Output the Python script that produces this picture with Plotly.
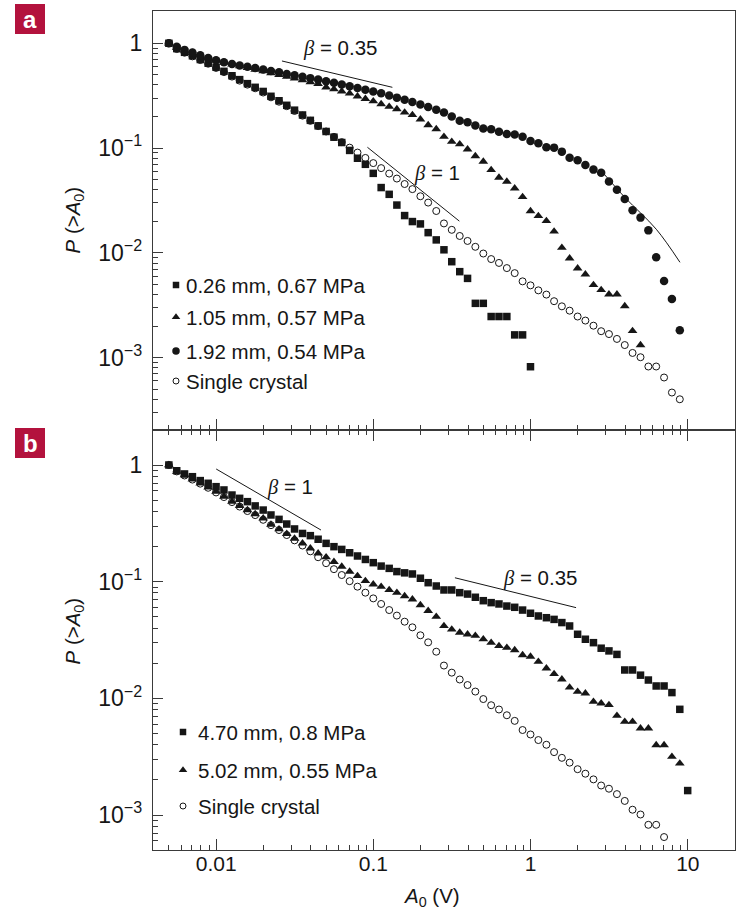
import numpy as np
import plotly.graph_objects as go

# ---------------------------------------------------------------- data
# amplitude bins A0 (V), 20 per decade
A0 = [0.00500, 0.00561, 0.00629, 0.00706, 0.00792, 0.00889, 0.00998, 0.0112, 0.0126, 0.0141,
      0.0158, 0.0177, 0.0199, 0.0223, 0.0251, 0.0281, 0.0315, 0.0354, 0.0397, 0.0445,
      0.0500, 0.0561, 0.0629, 0.0706, 0.0792, 0.0889, 0.0998, 0.112, 0.126, 0.141,
      0.158, 0.177, 0.199, 0.223, 0.251, 0.281, 0.315, 0.354, 0.397, 0.445,
      0.500, 0.561, 0.629, 0.706, 0.792, 0.889, 0.998, 1.12, 1.26, 1.41,
      1.58, 1.77, 1.99, 2.23, 2.51, 2.81, 3.15, 3.54, 3.97, 4.45,
      5.00, 5.61, 6.29, 7.06, 7.92, 8.89, 9.98]

# single crystal (shown in both panels)
P_single = [1.0, 0.881, 0.813, 0.750, 0.692, 0.638, 0.582, 0.531, 0.481, 0.440,
            0.403, 0.372, 0.339, 0.305, 0.277, 0.251, 0.226, 0.204, 0.182, 0.162,
            0.144, 0.128, 0.114, 0.101, 0.0906, 0.0805, 0.0719, 0.0644, 0.0571, 0.0512,
            0.0454, 0.0406, 0.0347, 0.0302, 0.0251, 0.0191, 0.0166, 0.0145, 0.0130, 0.01143,
            0.00986, 0.00873, 0.00802, 0.00716, 0.00641, 0.00535, 0.00490, 0.00439, 0.00400, 0.00346,
            0.00309, 0.00281, 0.00247, 0.00226, 0.00202, 0.00179, 0.00168, 0.00151, 0.00132, 0.00111,
            0.00101, 0.000824, 0.000824, 0.000647, 0.000465, 0.000401]

# panel a: ice polycrystals
P_026 = [1.0, 0.89, 0.82, 0.76, 0.70, 0.645, 0.59, 0.54, 0.49, 0.45,
         0.412, 0.38, 0.347, 0.312, 0.283, 0.256, 0.23, 0.207, 0.184, 0.163,
         0.144, 0.127, 0.113, 0.095, 0.080, 0.070, 0.0574, 0.042, 0.0362, 0.0286,
         0.0227, 0.0199, 0.0189, 0.0156, 0.0133, 0.0107, 0.00824, 0.00662, 0.00571, 0.0033,
         0.0033, 0.00247, 0.00247, 0.00247, 0.00165, 0.00165, 0.00082]

P_105 = [1.0, 0.91, 0.855, 0.81, 0.765, 0.72, 0.685, 0.655, 0.628, 0.604,
         0.582, 0.562, 0.541, 0.52, 0.50, 0.48, 0.462, 0.444, 0.427, 0.41,
         0.38, 0.365, 0.348, 0.332, 0.312, 0.295, 0.28, 0.263, 0.248, 0.236,
         0.219, 0.207, 0.188, 0.166, 0.152, 0.1285, 0.115, 0.109, 0.0973, 0.084,
         0.0743, 0.0619, 0.0523, 0.0479, 0.0413, 0.0342, 0.0251, 0.0225, 0.0202, 0.016,
         0.0112, 0.00888, 0.00713, 0.00624, 0.00494, 0.00443, 0.00402, 0.00402, 0.00311, 0.0018,
         0.00132]

P_192 = [1.0, 0.925, 0.865, 0.815, 0.77, 0.725, 0.69, 0.66, 0.635, 0.615,
         0.598, 0.58, 0.562, 0.545, 0.528, 0.51, 0.495, 0.48, 0.465, 0.45,
         0.435, 0.42, 0.405, 0.39, 0.375, 0.36, 0.347, 0.333, 0.318, 0.303,
         0.289, 0.275, 0.26, 0.246, 0.232, 0.219, 0.20, 0.182, 0.176, 0.164,
         0.154, 0.151, 0.143, 0.136, 0.135, 0.128, 0.117, 0.111, 0.102, 0.101,
         0.0925, 0.081, 0.0764, 0.069, 0.0623, 0.0583, 0.0479, 0.0401, 0.0327, 0.0255,
         0.0217, 0.0164, 0.00907, 0.0054, 0.00363, 0.00183]

# panel b: columnar ice
P_470 = [1.0, 0.893, 0.838, 0.794, 0.735, 0.697, 0.652, 0.611, 0.553, 0.518,
         0.485, 0.446, 0.411, 0.373, 0.342, 0.312, 0.283, 0.259, 0.248, 0.231,
         0.213, 0.1995, 0.189, 0.177, 0.166, 0.155, 0.1455, 0.136, 0.130, 0.122,
         0.119, 0.1164, 0.107, 0.098, 0.0918, 0.0849, 0.0849, 0.0805, 0.0783, 0.0735,
         0.0687, 0.0661, 0.0644, 0.0618, 0.0603, 0.0571, 0.0536, 0.0508, 0.0491, 0.0475,
         0.0446, 0.0417, 0.0354, 0.0321, 0.030, 0.0269, 0.0255, 0.0238, 0.0175, 0.0175,
         0.0158, 0.01435, 0.01276, 0.01276, 0.0112, 0.00805, 0.00162]

P_502 = [1.0, 0.877, 0.82, 0.753, 0.697, 0.644, 0.590, 0.536, 0.485, 0.446,
         0.411, 0.380, 0.349, 0.309, 0.282, 0.257, 0.234, 0.213, 0.193, 0.175,
         0.162, 0.148, 0.1346, 0.122, 0.112, 0.1014, 0.0948, 0.0906, 0.0849, 0.0805,
         0.0753, 0.0706, 0.0631, 0.0562, 0.0501, 0.0417, 0.039, 0.0366, 0.0354, 0.0344,
         0.0321, 0.030, 0.0281, 0.0272, 0.0259, 0.0235, 0.0228, 0.0206, 0.0181, 0.0162,
         0.01455, 0.0124, 0.0114, 0.01104, 0.00935, 0.00906, 0.00877, 0.0071, 0.0063, 0.0063,
         0.00553, 0.00553, 0.00398, 0.00398, 0.00316, 0.00277]

# guide lines (A0, P) end points
beta_a035 = ([0.0262, 0.132], [0.678, 0.38])
beta_a1 = ([0.0916, 0.352], [0.1018, 0.0201])
fit_a192 = ([2.89, 4.0, 6.3, 8.91], [0.0579, 0.0335, 0.0168, 0.00813])
beta_b1 = ([0.01, 0.0464], [0.924, 0.277])
beta_b035 = ([0.330, 1.945], [0.108, 0.0599])

legend_a = ["0.26 mm, 0.67 MPa", "1.05 mm, 0.57 MPa", "1.92 mm, 0.54 MPa", "Single crystal"]
legend_b = ["4.70 mm, 0.8 MPa", "5.02 mm, 0.55 MPa", "Single crystal"]

# ---------------------------------------------------------------- style
W, H = 737, 912
FONT = "Liberation Sans, Arial, sans-serif"
FS = 20.5
INK = "#161616"
AXC = "#3a3a3a"
RED = "#b3123d"

def px_x(p):
    return p / W

def px_y(p):
    return 1 - p / H

X_DOM = [px_x(153), px_x(735)]
DOM_A = [px_y(430), px_y(11)]
DOM_B = [px_y(850), px_y(430)]

STY = {
    "sq": dict(symbol="square", size=7.5, color=INK),
    "tri": dict(symbol="triangle-up", size=8.5, color=INK),
    "dot": dict(symbol="circle", size=8.5, color=INK),
    "ring": dict(symbol="circle-open", size=7, color=INK, line=dict(width=1, color=INK)),
}

fig = go.Figure()

def add_series(x, y, key, xa, ya):
    fig.add_trace(go.Scatter(x=x[:len(y)], y=y, mode="markers", marker=STY[key],
                             xaxis=xa, yaxis=ya, showlegend=False, hoverinfo="skip"))

def add_line(pts, xa, ya, smooth=False):
    fig.add_trace(go.Scatter(x=pts[0], y=pts[1], mode="lines",
                             line=dict(color=INK, width=1, shape="spline" if smooth else "linear"),
                             xaxis=xa, yaxis=ya, showlegend=False, hoverinfo="skip"))

# panel a
add_line(beta_a035, "x", "y")
add_line(beta_a1, "x", "y")
add_line(fit_a192, "x", "y", smooth=True)
add_series(A0, P_single, "ring", "x", "y")
add_series(A0, P_026, "sq", "x", "y")
add_series(A0, P_105, "tri", "x", "y")
add_series(A0, P_192, "dot", "x", "y")

# panel b
add_line(beta_b1, "x2", "y2")
add_line(beta_b035, "x2", "y2")
add_series(A0, P_single, "ring", "x2", "y2")
add_series(A0, P_502, "tri", "x2", "y2")
add_series(A0, P_470, "sq", "x2", "y2")

# legend keys on a pixel-space overlay
key_a = [("sq", 176, 285), ("tri", 176, 317), ("dot", 176, 351), ("ring", 176, 381)]
key_b = [("sq", 183, 732), ("tri", 183, 770), ("ring", 183, 806)]
for k, kx, ky in key_a + key_b:
    m = dict(STY[k])
    m["size"] = m["size"] - 1
    fig.add_trace(go.Scatter(x=[kx], y=[ky], mode="markers", marker=m, xaxis="x3", yaxis="y3",
                             showlegend=False, hoverinfo="skip", cliponaxis=False))

annotations = []
for (k, kx, ky), txt in zip(key_a, legend_a):
    annotations.append(dict(text=txt, x=px_x(184), y=px_y(ky), xref="paper", yref="paper",
                            xanchor="left", yanchor="middle", showarrow=False,
                            font=dict(size=FS, family=FONT, color=INK)))
for (k, kx, ky), txt in zip(key_b, legend_b):
    annotations.append(dict(text=txt, x=px_x(196), y=px_y(ky), xref="paper", yref="paper",
                            xanchor="left", yanchor="middle", showarrow=False,
                            font=dict(size=FS, family=FONT, color=INK)))

BETA = "<span style='font-family:Liberation Serif'><i>β</i></span> = "
for txt, xv, yv, xr, yr in [(BETA + "0.35", 0.0614, 0.895, "x", "y"),
                            (BETA + "1", 0.254, 0.0575, "x", "y"),
                            (BETA + "1", 0.0295, 0.652, "x2", "y2"),
                            (BETA + "0.35", 1.15, 0.107, "x2", "y2")]:
    annotations.append(dict(text=txt, x=np.log10(xv), y=np.log10(yv), xref=xr, yref=yr,
                            showarrow=False, xanchor="center", yanchor="middle",
                            font=dict(size=FS, family=FONT, color=INK)))

YTITLE = "<i>P</i> (&gt;<i>A</i><sub>0</sub>)"
for yc in (220.5, 631.5):
    annotations.append(dict(text=YTITLE, x=px_x(73), y=px_y(yc), xref="paper", yref="paper",
                            xanchor="center", yanchor="middle", textangle=-90, showarrow=False,
                            font=dict(size=FS, family=FONT, color=INK)))
annotations.append(dict(text="<i>A</i><sub>0</sub> (V)", x=px_x(431), y=px_y(897), xref="paper", yref="paper",
                        xanchor="center", yanchor="middle", showarrow=False,
                        font=dict(size=FS, family=FONT, color=INK)))

# panel tags
shapes = []
for tag, top in [("a", 4), ("b", 428)]:
    shapes.append(dict(type="rect", xref="paper", yref="paper", x0=px_x(15), x1=px_x(45),
                       y0=px_y(top + 30), y1=px_y(top), fillcolor=RED, line=dict(width=0)))
    annotations.append(dict(text="<b>%s</b>" % tag, x=px_x(30), y=px_y(top + 15), xref="paper", yref="paper",
                            showarrow=False, xanchor="center", yanchor="middle",
                            font=dict(size=24, family="Liberation Sans", color="white")))

minor = dict(ticks="inside", ticklen=5, tickcolor=AXC, tickwidth=1, showgrid=False)
common = dict(type="log", showline=True, linecolor=AXC, linewidth=1.2, ticks="inside",
              tickcolor=AXC, tickwidth=1, showgrid=False, zeroline=False, dtick=1,
              minor=minor)

fig.update_layout(
    width=W, height=H, margin=dict(l=0, r=0, t=0, b=0),
    paper_bgcolor="white", plot_bgcolor="rgba(0,0,0,0)",
    font=dict(family=FONT, color=INK),
    xaxis=dict(domain=X_DOM, anchor="y", range=[-2.402, 1.300], mirror=True, ticklen=11,
               showticklabels=False, **common),
    yaxis=dict(domain=DOM_A, anchor="x", range=[-3.69, 0.308], mirror=True, ticklen=10,
               exponentformat="power", tickfont=dict(size=18.4, family=FONT, color=INK),
               ticklabelstandoff=6, **common),
    xaxis2=dict(domain=X_DOM, anchor="y2", range=[-2.402, 1.300], mirror="ticks", ticklen=11,
                tickfont=dict(size=21, family=FONT, color=INK), ticklabelstandoff=-5, **common),
    yaxis2=dict(domain=DOM_B, anchor="x2", range=[-3.30, 0.30], mirror=True, ticklen=10,
                exponentformat="power", tickfont=dict(size=18.4, family=FONT, color=INK),
                ticklabelstandoff=6, **common),
    xaxis3=dict(domain=[0, 1], anchor="y3", range=[0, W], visible=False, fixedrange=True),
    yaxis3=dict(domain=[0, 1], anchor="x3", range=[H, 0], visible=False, fixedrange=True),
    annotations=annotations, shapes=shapes,
)

fig.write_html("out.html")
